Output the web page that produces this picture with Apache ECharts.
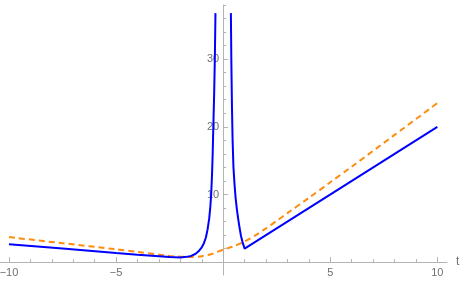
<!DOCTYPE html>
<html>
<head>
<meta charset="utf-8">
<script src="https://cdn.jsdelivr.net/npm/echarts@6/dist/echarts.min.js"></script>
<style>
html,body{margin:0;padding:0;background:#fff;}
#c{width:460px;height:282px;}
</style>
</head>
<body>
<div id="c"></div>
<script>
// ---- data ----
const blueLeftT = [-10, -7.5, -5, -4, -3, -2.5, -2, -1.7, -1.5, -1.3, -1.15, -1.0, -0.9, -0.81, -0.73, -0.65, -0.6, -0.56, -0.52, -0.49, -0.46, -0.42, -0.39, -0.36];
const blueLeftY = [2.66, 2.0, 1.35, 1.1, 0.88, 0.76, 0.7, 0.78, 0.92, 1.2, 1.6, 2.2, 2.8, 3.6, 4.8, 6.5, 8.2, 10, 13, 16, 20, 25, 30, 36.8];
const blueRightT = [0.36, 0.38, 0.41, 0.44, 0.48, 0.53, 0.58, 0.64, 0.7, 0.77, 0.83, 0.9, 1.0, 10];
const blueRightY = [36.8, 30, 23, 18, 14, 11.5, 9.5, 7.8, 6.4, 5.0, 3.9, 3.0, 2.0, 20];
const orangeT = [-10, -7.5, -5, -4, -3, -2.5, -2, -1.5, -1, -0.5, 0, 0.5, 1, 1.5, 2, 2.5, 3, 4, 5, 6, 8, 10];
const orangeY = [3.7, 2.8, 1.9, 1.5, 1.1, 0.92, 0.8, 0.76, 0.88, 1.25, 1.85, 2.35, 3.05, 3.95, 5.0, 6.1, 7.25, 9.5, 11.8, 14.1, 18.8, 23.5];

const xMajorTicks = [-10, -5, 5, 10];
const xMinorTicks = [-9, -8, -7, -6, -4, -3, -2, -1, 1, 2, 3, 4, 6, 7, 8, 9];
const yMajorTicks = [10, 20, 30];
const yMinorTicks = [2, 4, 6, 8, 12, 14, 16, 18, 22, 24, 26, 28, 32, 34, 36, 38];

const xRange = [-10.42, 10.45];
const yRange = [-1.9, 38];

const zip = (a, b) => a.map((v, i) => [v, b[i]]);

const W = 460, H = 282;
const G = {left: 0, right: 13, top: 5, bottom: 7};
const gw = W - G.left - G.right, gh = H - G.top - G.bottom;
// distance from grid edges to the zero lines (axes cross at the origin)
const xAxisOffset = -((0 - yRange[0]) / (yRange[1] - yRange[0]) * gh);
const yAxisOffset = -((0 - xRange[0]) / (xRange[1] - xRange[0]) * gw);

const axisColor = '#b3b3b3';
const labelColor = '#707070';
const fontFam = '"Liberation Sans", Arial, sans-serif';
const fmt = v => (v < 0 ? '\u2212' + Math.abs(v) : String(v));

const chart = echarts.init(document.getElementById('c'), null, {renderer: 'canvas'});
chart.setOption({
  animation: false,
  backgroundColor: '#fff',
  grid: {left: G.left, right: G.right, top: G.top, bottom: G.bottom, containLabel: false, outerBoundsMode: 'none'},
  xAxis: [
    {
      type: 'value', min: xRange[0], max: xRange[1], position: 'bottom', offset: xAxisOffset,
      axisLine: {show: true, onZero: false, lineStyle: {color: axisColor, width: 1}},
      axisTick: {show: true, inside: true, length: 5, customValues: xMajorTicks, lineStyle: {color: axisColor}},
      axisLabel: {show: true, customValues: xMajorTicks, formatter: fmt, color: labelColor, fontSize: 11, fontFamily: fontFam, margin: 5, hideOverlap: false},
      splitLine: {show: false},
      name: 't', nameLocation: 'end', nameGap: 9,
      nameTextStyle: {color: labelColor, fontSize: 12, fontFamily: fontFam, verticalAlign: 'middle'}
    },
    {
      type: 'value', min: xRange[0], max: xRange[1], position: 'bottom', offset: xAxisOffset,
      axisLine: {show: false, onZero: false},
      axisTick: {show: true, inside: true, length: 3, customValues: xMinorTicks, lineStyle: {color: axisColor}},
      axisLabel: {show: false},
      splitLine: {show: false}
    }
  ],
  yAxis: [
    {
      type: 'value', min: yRange[0], max: yRange[1], position: 'left', offset: yAxisOffset,
      axisLine: {show: true, onZero: false, lineStyle: {color: axisColor, width: 1}},
      axisTick: {show: true, inside: true, length: 5, customValues: yMajorTicks, lineStyle: {color: axisColor}},
      axisLabel: {show: true, customValues: yMajorTicks, formatter: fmt, color: labelColor, fontSize: 11, fontFamily: fontFam, margin: 4, hideOverlap: false},
      splitLine: {show: false}
    },
    {
      type: 'value', min: yRange[0], max: yRange[1], position: 'left', offset: yAxisOffset,
      axisLine: {show: false, onZero: false},
      axisTick: {show: true, inside: true, length: 3, customValues: yMinorTicks, lineStyle: {color: axisColor}},
      axisLabel: {show: false},
      splitLine: {show: false}
    }
  ],
  series: [
    {
      type: 'line', xAxisIndex: 0, yAxisIndex: 0, data: zip(orangeT, orangeY),
      showSymbol: false, symbol: 'none', smooth: 0.3, clip: true,
      lineStyle: {color: '#ff8c0f', width: 2, type: [6, 4]}
    },
    {
      type: 'line', xAxisIndex: 0, yAxisIndex: 0, data: zip(blueLeftT, blueLeftY),
      showSymbol: false, symbol: 'none', smooth: false, clip: true,
      lineStyle: {color: '#0000ff', width: 2}
    },
    {
      type: 'line', xAxisIndex: 0, yAxisIndex: 0, data: zip(blueRightT, blueRightY),
      showSymbol: false, symbol: 'none', smooth: false, clip: true,
      lineStyle: {color: '#0000ff', width: 2}
    }
  ]
});
</script>
</body>
</html>
